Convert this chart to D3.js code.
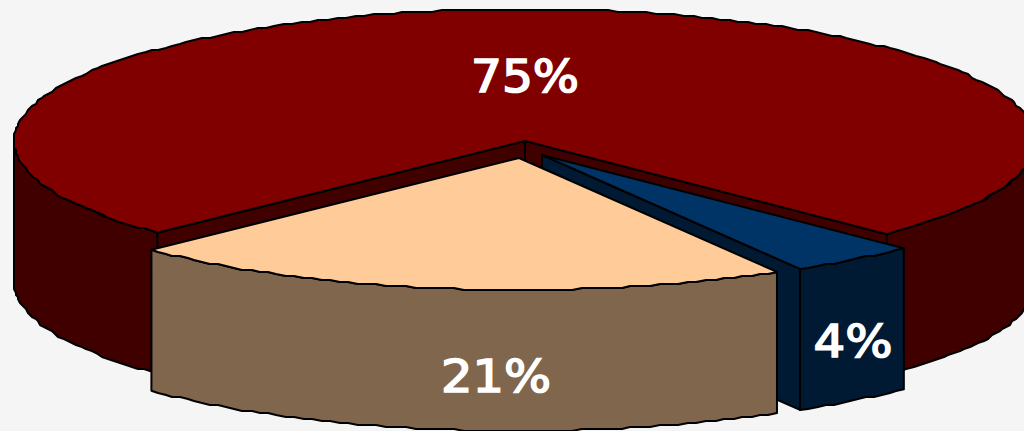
<!DOCTYPE html>
<html><head><meta charset="utf-8">
<script src="https://cdn.jsdelivr.net/npm/d3@7"></script>
<style>html,body{margin:0;padding:0;background:#f5f5f5;overflow:hidden}svg{display:block}</style>
</head><body><svg id="c" width="1024" height="431"></svg>
<script>
const categories = ["A", "B", "C"];
const seriesValues = [74.7, 4.1, 21.2];
const tickLabels = ["75%", "4%", "21%"];

const W = 1024, H = 431, DEG = Math.PI / 180;
const svg = d3.select("#c");
svg.append("rect").attr("width", W).attr("height", H).attr("fill", "#f5f5f5");

const topFill  = ["#800000", "#003366", "#ffcc99"];
const sideFill = ["#400000", "#001a33", "#80664d"];
const offsets  = [[0, 0], [17, 14], [-6, 17]];
const depths   = [141, 141, 141];
const labelPos = [[525, 76, 108], [853, 341, 79], [496, 376, 110]];

const px = d3.scaleLinear().domain([-1, 1]).range([14, 1036]);
const py = d3.scaleLinear().domain([-1, 1]).range([9, 273]);

const pie = d3.pie().sort(null).value(d => d)
  .startAngle(226 * DEG).endAngle((226 + 360) * DEG);
const arcs = pie(seriesValues);

const pt = (a, o) => [px(Math.sin(a)) + o[0], py(-Math.cos(a)) + o[1]];
const apex = o => [px(0) + o[0], py(0) + o[1]];
const down = (p, d) => [p[0], p[1] + d];
const line = d3.line();

// Edge samples: snapped a little to a coarse grid, like the pixel-stepped rim of the reference.
function rim(a0, a1, o) {
  const n = Math.max(1, Math.round(Math.abs(a1 - a0) / (1.1 * DEG)));
  return d3.range(n + 1).map(i => {
    const p = pt(a0 + (a1 - a0) * i / n, o);
    if (i === 0 || i === n) return p;
    return [Math.round(p[0] / 2) * 2, Math.round(p[1] / 2) * 2];
  });
}
const shape = (pts, fill) => svg.append("path")
  .attr("d", line(pts) + "Z").attr("fill", fill)
  .attr("stroke", "#000").attr("stroke-width", 2).attr("stroke-linejoin", "round");

function outerFace(a0, a1, o, d, fill) {
  const r = rim(a0, a1, o);
  shape(r.concat(r.slice().reverse().map(p => down(p, d))), fill);
}
function cutFace(a, o, d, fill) {
  const c = apex(o), p = pt(a, o);
  shape([c, p, down(p, d), down(c, d)], fill);
}
function topFace(a0, a1, o, fill) {
  shape([apex(o)].concat(rim(a0, a1, o)), fill);
}

const [red, blue, peach] = arcs;
// Red: outer rim on the two front arcs, then the inner cut faces
outerFace(red.startAngle, 270 * DEG, offsets[0], depths[0], sideFill[0]);
outerFace(90 * DEG + 360 * DEG, red.endAngle, offsets[0], depths[0], sideFill[0]);
cutFace(red.startAngle, offsets[0], depths[0], sideFill[0]);
cutFace(red.endAngle, offsets[0], depths[0], sideFill[0]);
topFace(red.startAngle, red.endAngle, offsets[0], topFill[0]);

// Blue wedge
cutFace(blue.endAngle, offsets[1], depths[1], sideFill[1]);
outerFace(blue.startAngle, blue.endAngle, offsets[1], depths[1], sideFill[1]);
topFace(blue.startAngle, blue.endAngle, offsets[1], topFill[1]);

// Peach wedge
outerFace(peach.startAngle, peach.endAngle, offsets[2], depths[2], sideFill[2]);
topFace(peach.startAngle, peach.endAngle, offsets[2], topFill[2]);

// Labels
svg.selectAll("text.lbl").data(tickLabels).join("text").attr("class", "lbl")
  .attr("x", (d, i) => labelPos[i][0] - labelPos[i][2] / 2)
  .attr("y", (d, i) => labelPos[i][1] + 16)
  .attr("textLength", (d, i) => labelPos[i][2])
  .attr("lengthAdjust", "spacingAndGlyphs")
  .attr("font-family", "'DejaVu Sans', sans-serif")
  .attr("font-weight", "normal")
  .attr("font-size", 44)
  .attr("fill", "#fff")
  .attr("stroke", "#fff")
  .attr("stroke-width", 1.6)
  .text(d => d);
</script></body></html>
